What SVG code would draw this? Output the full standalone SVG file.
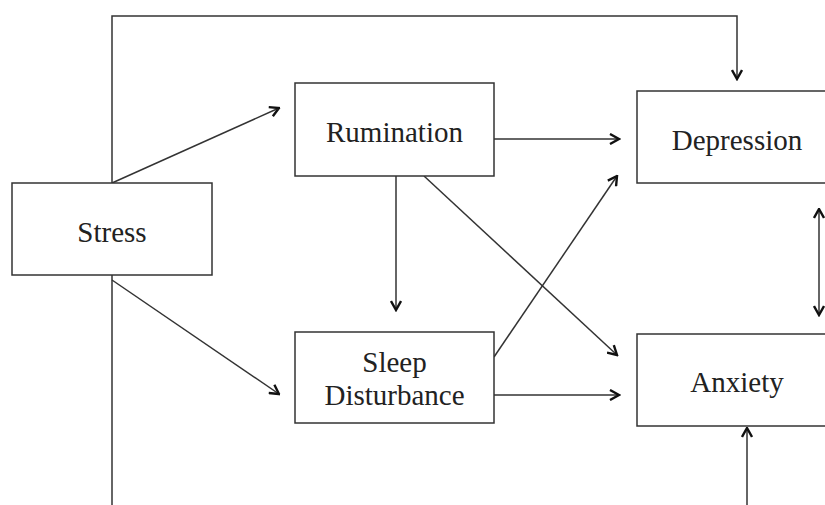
<svg xmlns="http://www.w3.org/2000/svg" width="825" height="505" viewBox="0 0 825 505">
<style>
.box{fill:#fff;stroke:#333;stroke-width:1.5}
.lbl{font-family:"Liberation Serif","Times New Roman",serif;font-size:29px;fill:#222;text-anchor:middle}
.c{fill:none;stroke:#333;stroke-width:1.5}
</style>
<defs>
<marker id="ah" viewBox="0 0 12 12" refX="10.5" refY="6" markerWidth="12" markerHeight="12" markerUnits="userSpaceOnUse" orient="auto-start-reverse">
<path d="M1.5,1 L10.5,6 L1.5,11" fill="none" stroke="#111" stroke-width="2.4" stroke-linejoin="miter"/>
</marker>
</defs>
<rect width="825" height="505" fill="#fff"/>
<g id="connectors">
<polyline class="c" points="112,183 112,16 737,16 737,79" marker-end="url(#ah)"/>
<line class="c" x1="112" y1="275" x2="112" y2="505"/>
<line class="c" x1="112" y1="183" x2="279" y2="108" marker-end="url(#ah)"/>
<line class="c" x1="112" y1="280" x2="279" y2="394" marker-end="url(#ah)"/>
<line class="c" x1="494" y1="139" x2="619" y2="139" marker-end="url(#ah)"/>
<line class="c" x1="396" y1="176" x2="396" y2="310" marker-end="url(#ah)"/>
<line class="c" x1="424" y1="176" x2="617" y2="355" marker-end="url(#ah)"/>
<line class="c" x1="494" y1="357" x2="617" y2="176" marker-end="url(#ah)"/>
<line class="c" x1="494" y1="395" x2="619" y2="395" marker-end="url(#ah)"/>
<line class="c" x1="819" y1="209" x2="819" y2="315" marker-start="url(#ah)" marker-end="url(#ah)"/>
<line class="c" x1="747" y1="505" x2="747" y2="428" marker-end="url(#ah)"/>
</g>
<g id="stress">
<rect class="box" x="12" y="183" width="200" height="92"/>
<text class="lbl" x="112" y="242">Stress</text>
</g>
<g id="rumination">
<rect class="box" x="295" y="83" width="199" height="93"/>
<text class="lbl" x="394.5" y="142">Rumination</text>
</g>
<g id="sleep">
<rect class="box" x="295" y="332" width="199" height="91"/>
<text class="lbl" x="394.5" y="372">Sleep</text>
<text class="lbl" x="394.5" y="405">Disturbance</text>
</g>
<g id="depression">
<rect class="box" x="637" y="91" width="200" height="92"/>
<text class="lbl" x="737" y="150">Depression</text>
</g>
<g id="anxiety">
<rect class="box" x="637" y="334" width="200" height="92"/>
<text class="lbl" x="737" y="392">Anxiety</text>
</g>
</svg>
